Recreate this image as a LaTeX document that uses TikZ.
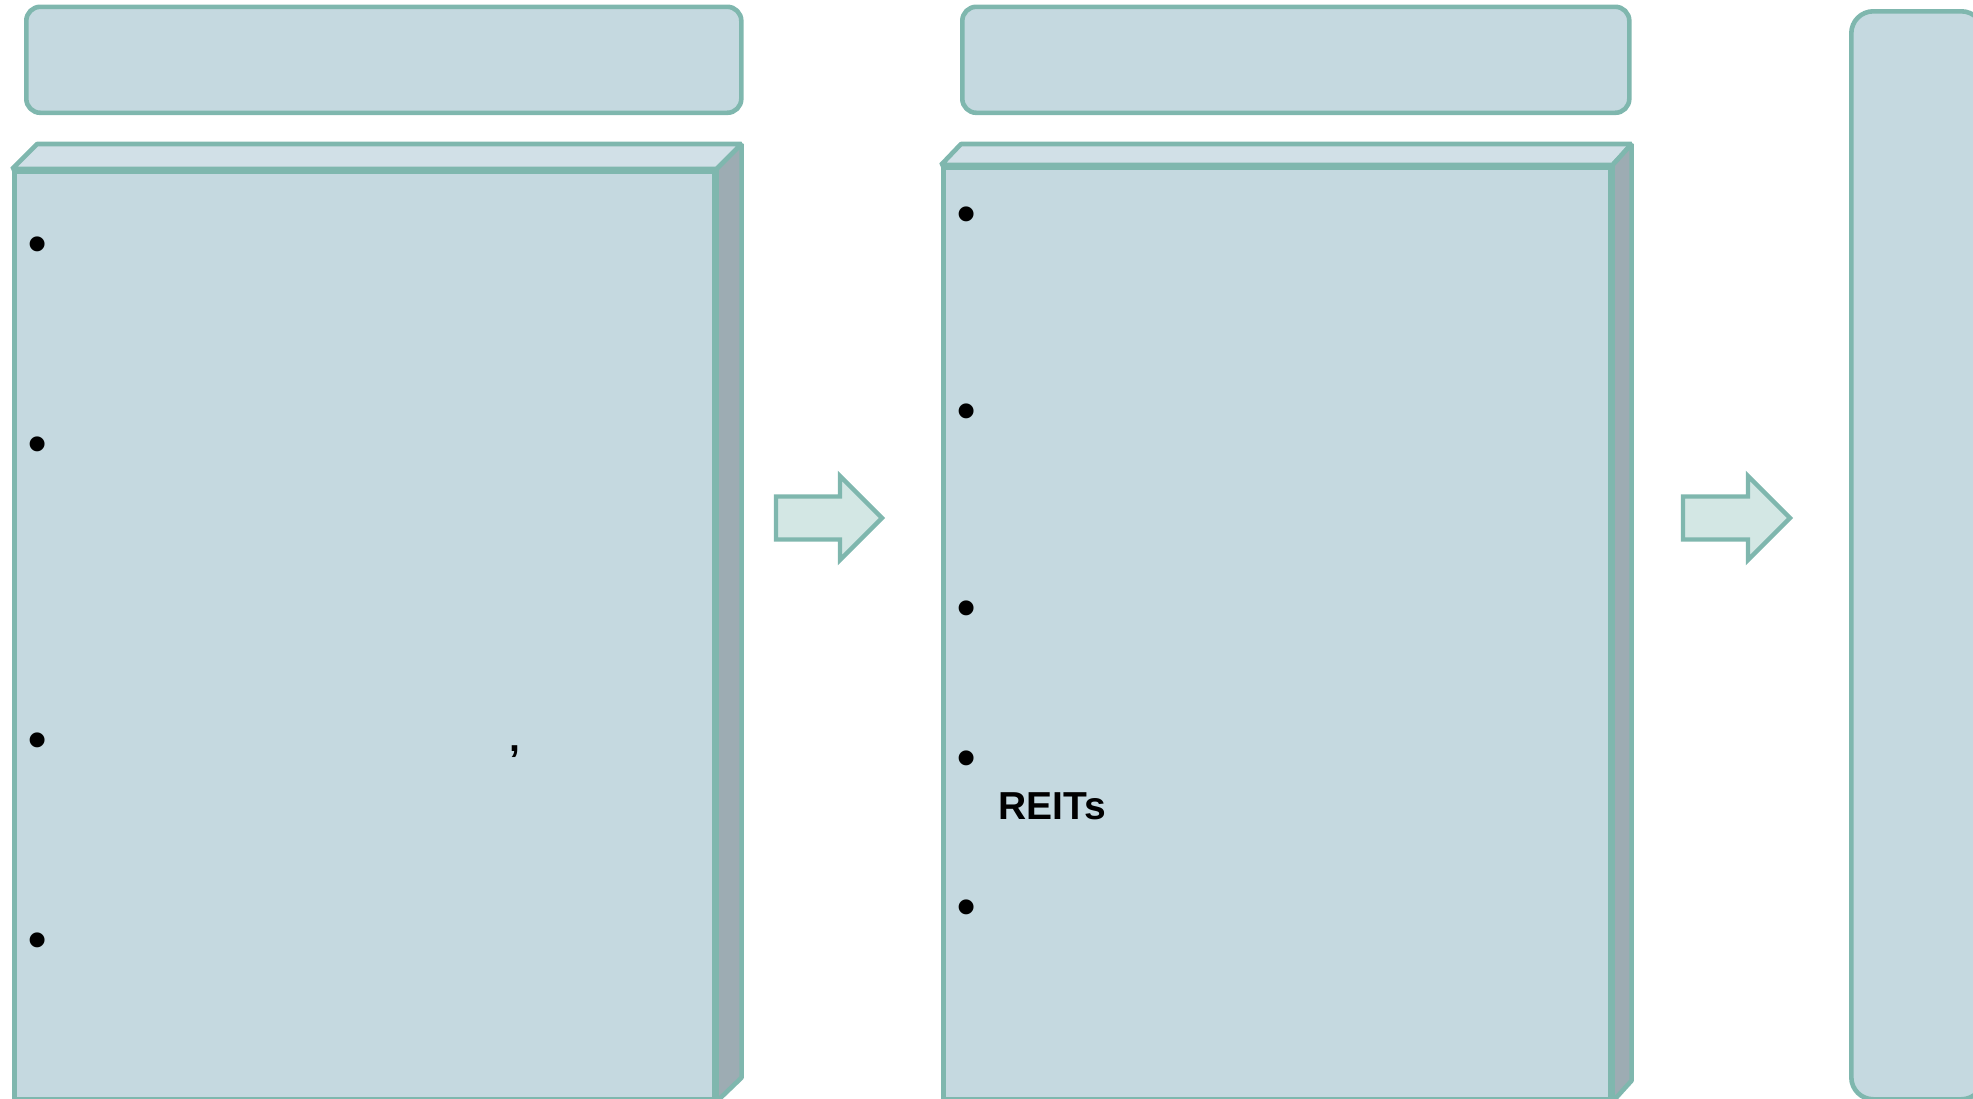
\documentclass[tikz,border=0pt]{standalone}
\usepackage{fontspec}
\setmainfont{Liberation Sans}
\usetikzlibrary{calc}
\definecolor{boxfill}{HTML}{C5D9E0}
\definecolor{topfill}{HTML}{D1E0E7}
\definecolor{sidefill}{HTML}{9DACB3}
\definecolor{edgecol}{HTML}{7FB7AE}
\definecolor{arrowfill}{HTML}{D3E7E4}
\begin{document}
\begin{tikzpicture}[x=1pt,y=-1pt, line join=bevel,
  topbox/.style={draw=edgecol, fill=boxfill, line width=4.6pt, rounded corners=14pt,
    inner sep=0pt, anchor=north west},
  frontface/.style={draw=edgecol, fill=boxfill, line width=4.6pt, inner sep=0pt, anchor=north west},
  topface/.style={draw=edgecol, fill=topfill, line width=4.6pt},
  sideface/.style={draw=edgecol, fill=sidefill, line width=4.6pt},
  blockarrow/.style={draw=edgecol, fill=arrowfill, line width=4.4pt, line join=miter},
  bul/.style={inner sep=0pt, anchor=north, font=\fontsize{52}{60}\selectfont\bfseries},
  lbl/.style={inner sep=0pt, font=\fontsize{39}{47}\selectfont\bfseries}]
\useasboundingbox (0,0) rectangle (1973,1098);
\clip (0,0) rectangle (1973,1098);

% top title boxes
\node[topbox, minimum width=715pt, minimum height=106pt] (t1) at (24,4.5) {};
\node[topbox, minimum width=667pt, minimum height=106pt] (t2) at (960,4.5) {};

% right tall box
\node[topbox, rounded corners=22pt, minimum width=132pt, minimum height=1088pt] (t3) at (1849,9) {};

% left 3D box
\node[frontface, minimum width=700pt, minimum height=928pt] (f1) at (12,169) {};
\path[topface] (f1.north west) -- ++(25,-25) -- ($(f1.north east)+(25,-25)$) -- (f1.north east) -- cycle;
\path[sideface] (f1.north east) -- ++(25,-25) -- ($(f1.south east)+(25,-24)$) -- (f1.south east) -- cycle;

% middle 3D box
\node[frontface, minimum width=667pt, minimum height=932pt] (f2) at (941,165) {};
\path[topface] (f2.north west) -- ++(20,-21) -- ($(f2.north east)+(19,-21)$) -- (f2.north east) -- cycle;
\path[sideface] (f2.north east) -- ++(19,-21) -- ($(f2.south east)+(19,-21)$) -- (f2.south east) -- cycle;

% block arrows
\path[blockarrow] (776,496.5) -- (840,496.5) -- (840,476) -- (882,518) -- (840,560) -- (840,539.5) -- (776,539.5) -- cycle;
\path[blockarrow] (1683,496.5) -- (1748,496.5) -- (1748,476) -- (1790,518) -- (1748,560) -- (1748,539.5) -- (1683,539.5) -- cycle;

% bullets, left box
\node[bul] (lb1) at (38,236.5) {•};
\node[bul] (lb2) at (38,436.5) {•};
\node[bul] (lb3) at (38,732.5) {•};
\node[bul] (lb4) at (38,932.5) {•};
\node[lbl, anchor=north] (comma) at (515,745) {,};

% bullets, middle box
\node[bul] (mb1) at (967,206.5) {•};
\node[bul] (mb2) at (967,404) {•};
\node[bul] (mb3) at (967,600.5) {•};
\node[bul] (mb4) at (967,750.5) {•};
\node[bul] (mb5) at (967,900) {•};
\node[lbl, anchor=base west] (reits) at (998,819) {REITs};
\end{tikzpicture}
\end{document}
